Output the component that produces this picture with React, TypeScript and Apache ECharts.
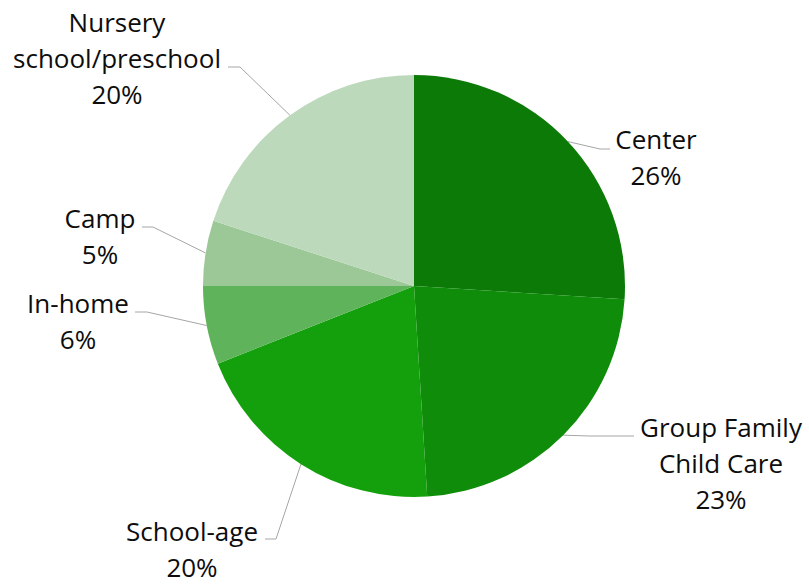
import React, { useEffect, useRef } from "react";
import * as echarts from "echarts";

const categories = [
  "Center",
  "Group Family Child Care",
  "School-age",
  "In-home",
  "Camp",
  "Nursery school/preschool",
];
const labelNames = [
  "Center",
  "Group Family\nChild Care",
  "School-age",
  "In-home",
  "Camp",
  "Nursery\nschool/preschool",
];
const values = [26, 23, 20, 6, 5, 20];
const colors = ["#0b7a07", "#0f8c09", "#14a00c", "#5eb35b", "#9bc896", "#bdd9bc"];

// label placement (layout only): block centre, leader bend point and end point
const labelLayouts = [
  { x: 656, y: 157, bend: [600, 149], end: [610, 149] },
  { x: 721, y: 463, bend: [590, 436], end: [634, 436] },
  { x: 192, y: 549, bend: [276, 539], end: [265, 539] },
  { x: 78, y: 320.5, bend: [147, 312], end: [135, 312] },
  { x: 100, y: 235.5, bend: [153, 227], end: [142, 227] },
  { x: 117, y: 58, bend: [240, 67], end: [228, 67] },
];

const CX = 414;
const CY = 286;
const R = 211;

export default function App() {
  const ref = useRef<HTMLDivElement>(null);
  useEffect(() => {
    if (!ref.current) return;
    const chart = echarts.init(ref.current, null, { renderer: "svg" });
    const total = values.reduce((a, b) => a + b, 0);
    const edgePoint = (i: number) => {
      let cum = 0;
      for (let k = 0; k < i; k++) cum += values[k];
      const a = ((cum + values[i] / 2) / total) * Math.PI * 2;
      return [CX + R * Math.sin(a), CY - R * Math.cos(a)];
    };
    chart.setOption({
      animation: false,
      backgroundColor: "#ffffff",
      series: [
        {
          type: "pie",
          center: [CX, CY],
          radius: R,
          startAngle: 90,
          clockwise: true,
          data: categories.map((c, i) => ({
            name: c,
            value: values[i],
            itemStyle: { color: colors[i] },
          })),
          label: {
            show: true,
            position: "outside",
            formatter: (p: any) => `${labelNames[p.dataIndex]}\n${p.percent.toFixed(0)}%`,
            fontFamily: "Open Sans",
            fontSize: 26,
            lineHeight: 36,
            color: "#0d0d0d",
            align: "center",
          },
          labelLine: {
            show: true,
            length: 20,
            length2: 10,
            lineStyle: { color: "#a6a6a6", width: 1 },
          },
          labelLayout: (params: any) => {
            const i = params.dataIndex;
            const L = labelLayouts[i];
            const p0 = edgePoint(i);
            return {
              x: L.x,
              y: L.y,
              align: "center",
              verticalAlign: "middle",
              labelLinePoints: [p0, L.bend, L.end],
            };
          },
          emphasis: { disabled: true },
        },
      ],
    });
    return () => chart.dispose();
  }, []);
  return (
    <div
      ref={ref}
      style={{ position: "absolute", left: 0, top: 0, width: 809, height: 584 }}
    />
  );
}
